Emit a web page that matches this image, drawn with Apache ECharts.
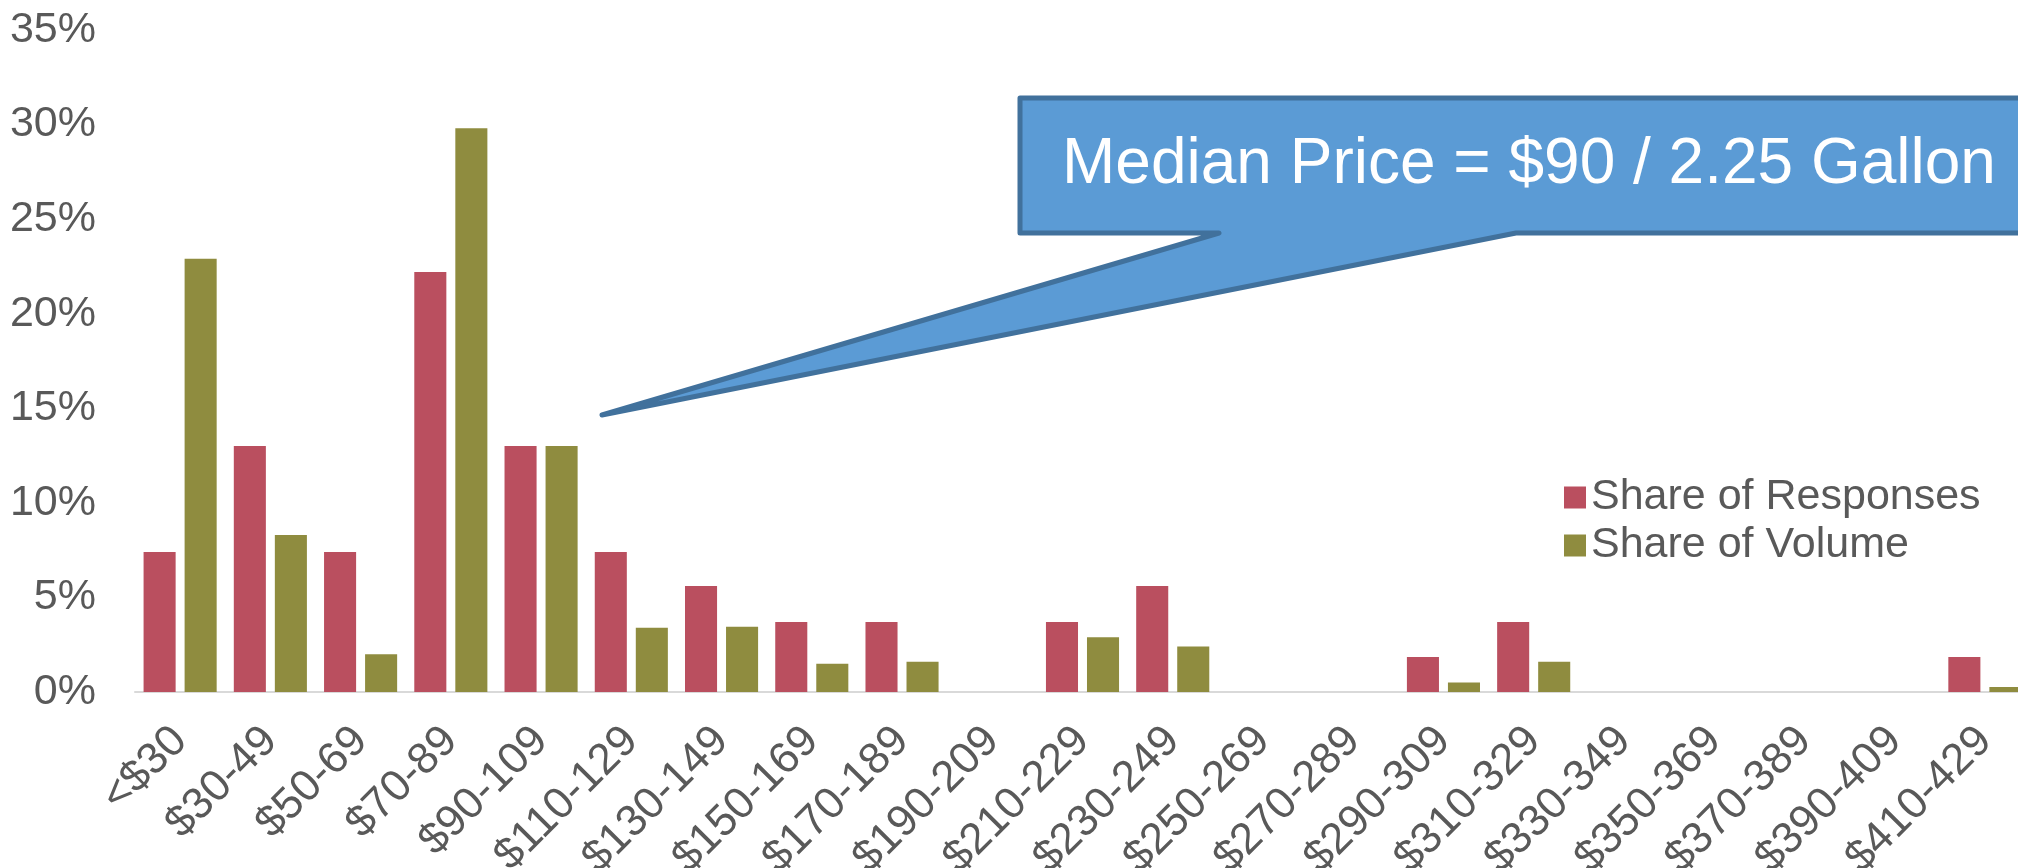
<!DOCTYPE html>
<html>
<head>
<meta charset="utf-8">
<title>Price distribution</title>
<script src="https://cdn.jsdelivr.net/npm/echarts@6/dist/echarts.min.js"></script>
<style>
    html, body { margin: 0; padding: 0; background: #fff; }
    #price-chart { width: 2018px; height: 868px; }
</style>
</head>
<body>
<div id="price-chart"></div>
<script>
// price buckets
var categories = ['<$30', '$30-49', '$50-69', '$70-89', '$90-109', '$110-129', '$130-149',
    '$150-169', '$170-189', '$190-209', '$210-229', '$230-249', '$250-269', '$270-289',
    '$290-309', '$310-329', '$330-349', '$350-369', '$370-389', '$390-409', '$410-429'];

// share of responses (%)
var responses = [7.4, 13.0, 7.4, 22.2, 13.0, 7.4, 5.6, 3.7, 3.7, 0, 3.7, 5.6, 0, 0,
    1.85, 3.7, 0, 0, 0, 0, 1.85];

// share of volume (%)
var volume = [22.9, 8.3, 2.0, 29.8, 13.0, 3.4, 3.45, 1.5, 1.6, 0, 2.9, 2.4, 0, 0,
    0.5, 1.6, 0, 0, 0, 0, 0.27];

var yTicks = [0, 5, 10, 15, 20, 25, 30, 35];

var calloutText = 'Median Price = $90 / 2.25 Gallon';

var fontName = 'Liberation Sans, Arial, sans-serif';
var textGrey = '#595959';

var myChart = echarts.init(document.getElementById('price-chart'));

var option = {
    animation: false,
    textStyle: { fontFamily: fontName },
    grid: {
        left: 135,
        right: -12,
        top: 30,
        bottom: 176,
        containLabel: false,
        outerBoundsMode: 'none'
    },
    legend: {
        orient: 'vertical',
        left: 1559,
        top: 471,
        itemWidth: 22,
        itemHeight: 22,
        itemGap: 5,
        icon: 'rect',
        textStyle: { fontSize: 43, color: textGrey, fontFamily: fontName },
        data: ['Share of Responses', 'Share of Volume']
    },
    xAxis: {
        type: 'category',
        data: categories,
        axisLine: { lineStyle: { color: '#d9d9d9', width: 2 } },
        axisTick: { show: false },
        axisLabel: {
            interval: 0,
            rotate: 45,
            margin: 42,
            fontSize: 44,
            color: textGrey,
            fontFamily: fontName
        }
    },
    yAxis: {
        type: 'value',
        min: yTicks[0],
        max: yTicks[yTicks.length - 1],
        interval: 5,
        splitLine: { show: false },
        axisLine: { show: false },
        axisTick: { show: false },
        axisLabel: {
            margin: 39,
            fontSize: 43,
            color: textGrey,
            fontFamily: fontName,
            formatter: '{value}%'
        }
    },
    series: [
        {
            name: 'Share of Responses',
            type: 'bar',
            data: responses,
            barGap: '28%',
            barCategoryGap: '19%',
            itemStyle: { color: '#BA4F5F' }
        },
        {
            name: 'Share of Volume',
            type: 'bar',
            data: volume,
            itemStyle: { color: '#8F8C3F' }
        }
    ],
    // 中位价格标注
    graphic: [
        {
            type: 'polygon',
            z: 100,
            shape: {
                points: [[1020, 98], [2045, 98], [2045, 233], [1516, 233],
                    [602, 415], [1219, 233], [1020, 233]]
            },
            style: { fill: '#5B9BD5', stroke: '#41719C', lineWidth: 5, lineJoin: 'round' }
        },
        {
            type: 'text',
            z: 101,
            x: 1529,
            y: 165,
            style: {
                text: calloutText,
                fill: '#ffffff',
                font: '64px ' + fontName,
                align: 'center',
                verticalAlign: 'middle'
            }
        }
    ]
};

myChart.setOption(option);
</script>
</body>
</html>
